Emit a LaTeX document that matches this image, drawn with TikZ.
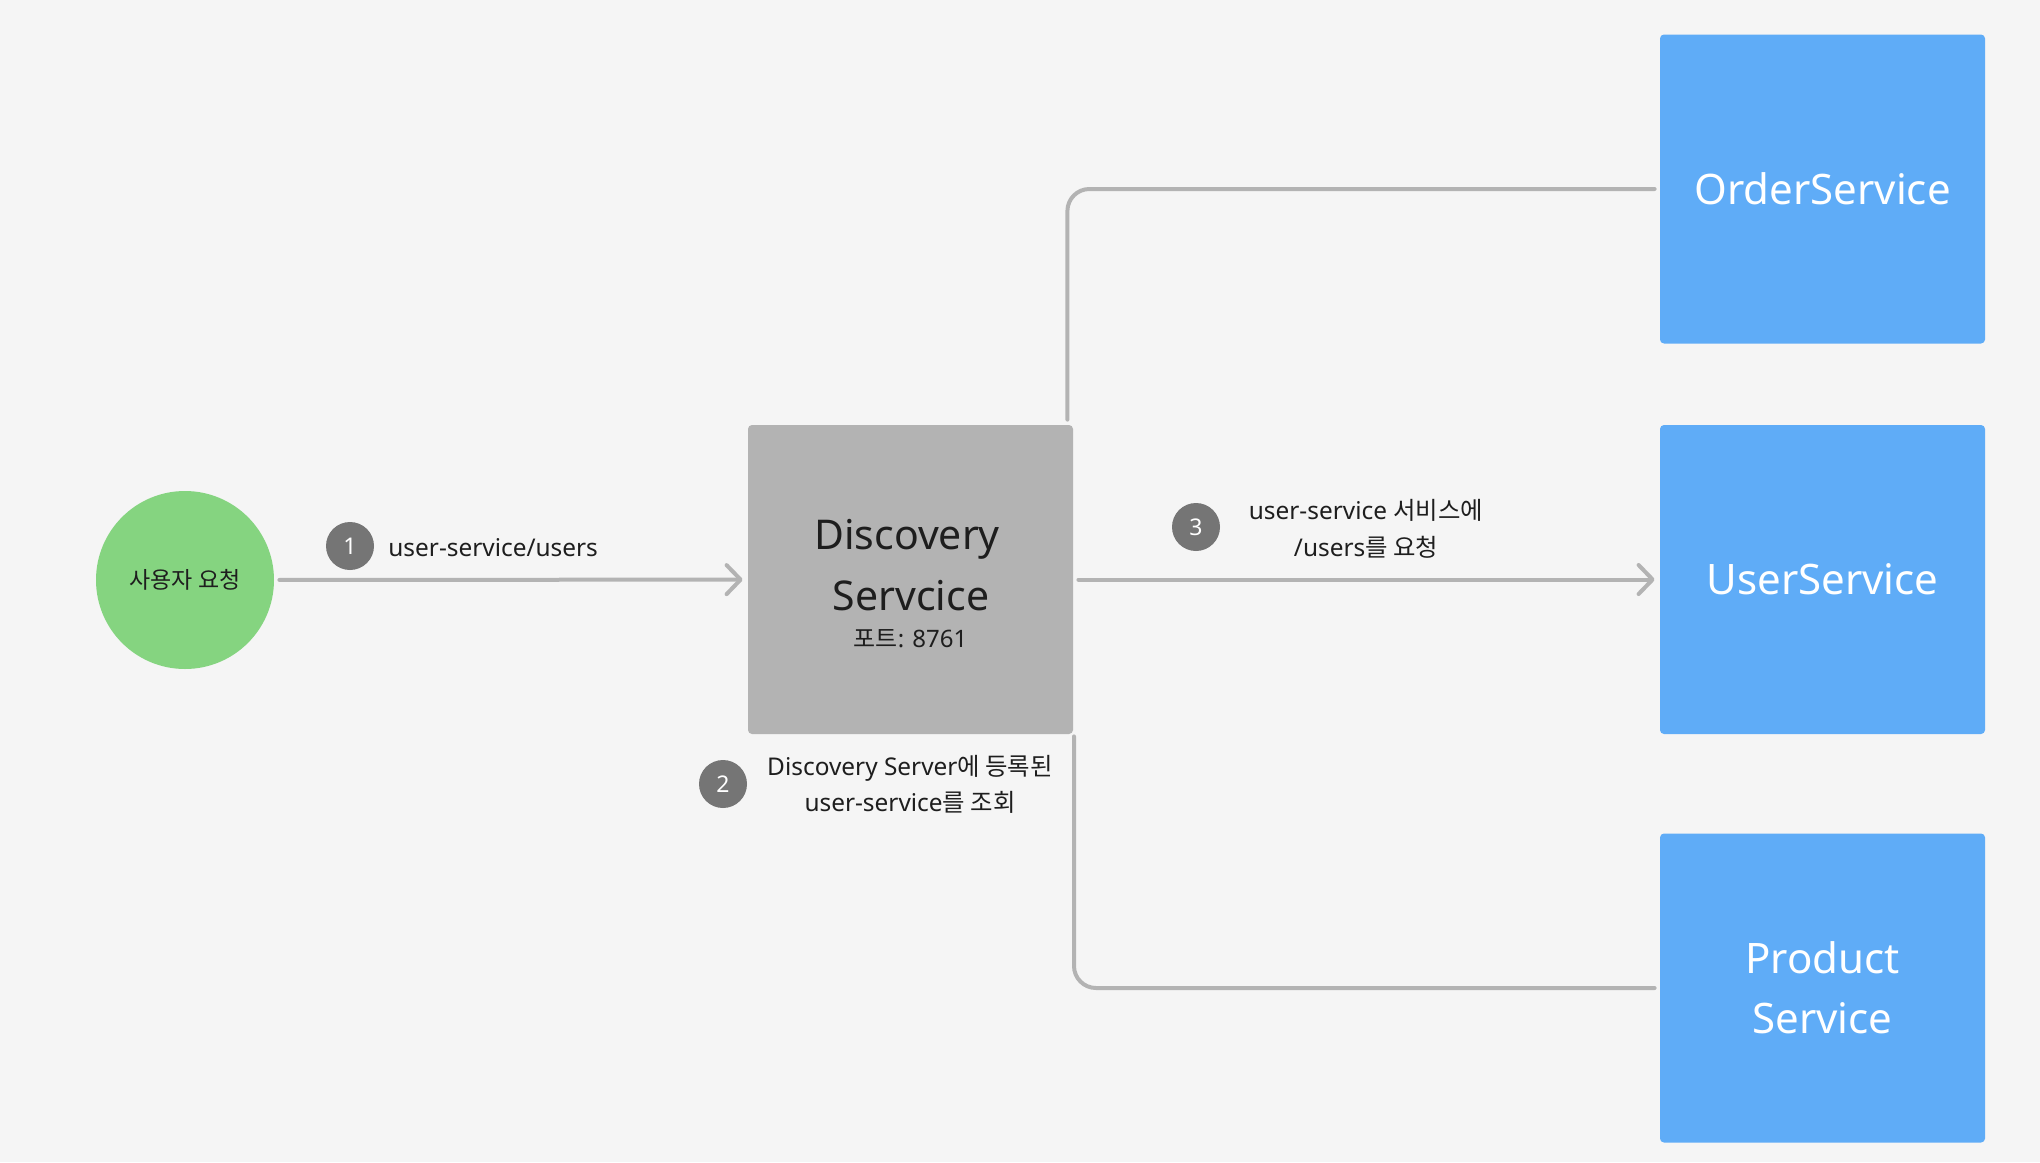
\documentclass[tikz,border=0pt]{standalone}
\usepackage{fontspec}
\setmainfont{Noto Sans}
\newfontfamily\kr{Noto Sans CJK KR}
\usetikzlibrary{arrows.meta}
\definecolor{bg}{HTML}{F5F5F5}
\definecolor{usergreen}{HTML}{85D480}
\definecolor{discgray}{HTML}{B3B3B3}
\definecolor{svcblue}{HTML}{5FACF7}
\definecolor{linegray}{HTML}{B3B3B3}
\definecolor{badgegray}{HTML}{757575}
\definecolor{txt}{HTML}{1E1E1E}
\begin{document}
\begin{tikzpicture}[x=0.5pt,y=-0.5pt,
  usernode/.style={circle, fill=usergreen, minimum size=89pt, inner sep=0pt,
    text=txt, font=\kr\fontsize{11.5}{14}\selectfont},
  discbox/.style={rectangle, rounded corners=2pt, fill=discgray,
    minimum width=162.5pt, minimum height=154.5pt, inner sep=0pt},
  disctext/.style={text=txt, inner sep=0pt, font=\fontsize{20.5}{24}\selectfont},
  porttext/.style={text=txt, inner sep=0pt, font=\fontsize{12}{14}\selectfont},
  svcbox/.style={rectangle, rounded corners=2pt, fill=svcblue, text=white,
    minimum width=162.5pt, minimum height=154.5pt, inner sep=0pt, align=center,
    font=\fontsize{21}{30}\selectfont},
  badge/.style={circle, fill=badgegray, text=white, minimum size=24pt, inner sep=0pt,
    font=\fontsize{11.5}{14}\selectfont},
  lbl/.style={text=txt, inner sep=0pt, align=center, font=\fontsize{12.2}{18}\selectfont},
  conn/.style={draw=linegray, line width=2pt, line cap=round, rounded corners=11pt},
  arr/.style={draw=linegray, line width=2pt, line cap=round,
    -{Straight Barb[length=7pt, width=14.5pt, round]}}
]
\useasboundingbox (0,0) rectangle (2040,1162);
\fill[bg] (0,0) rectangle (2040,1162);

% nodes
\node[usernode] (user) at (185,580) {사용자 요청};
\node[discbox] (disc) at (910.5,579.5) {};
\node[disctext, anchor=base] (d1) at (907,549) {Discovery};
\node[disctext, anchor=base] (d2) at (911,610) {Servcice};
\node[porttext, anchor=base] (d3) at (910.5,647) {{\kr 포트}: 8761};

\node[svcbox] (osvc) at (1822.5,189) {OrderService};
\node[svcbox] (usvc) at (1822.5,579.5) {UserService};
\node[svcbox] (psvc) at (1822.5,988) {Product\\Service};

% connectors
\draw[arr, shorten <=2.5pt, shorten >=2.5pt] (user) -- (disc);
\draw[arr, shorten <=2.5pt, shorten >=2.5pt] (disc.east) -- (usvc.west);
\draw[conn] ([xshift=-3pt, yshift=2.5pt]disc.north east) |- ([xshift=-2.5pt]osvc.west);
\draw[conn] ([xshift=0.3pt, yshift=-1pt]disc.south east) |- ([xshift=-2.5pt]psvc.west);

% labels
\node[badge] (b1) at (350,546) {1};
\node[lbl, anchor=base west] (l1) at (388,556) {user-service/users};

\node[badge] (b2) at (723,784) {2};
\node[lbl, anchor=base] (l2a) at (910,775) {Discovery Server{\kr 에 등록된}};
\node[lbl, anchor=base] (l2b) at (910,811) {user-service{\kr 를 조회}};

\node[badge] (b3) at (1196,527) {3};
\node[lbl, anchor=base] (l3a) at (1366,519) {user-service {\kr 서비스에}};
\node[lbl, anchor=base] (l3b) at (1366,556) {/users{\kr 를 요청}};
\end{tikzpicture}
\end{document}
